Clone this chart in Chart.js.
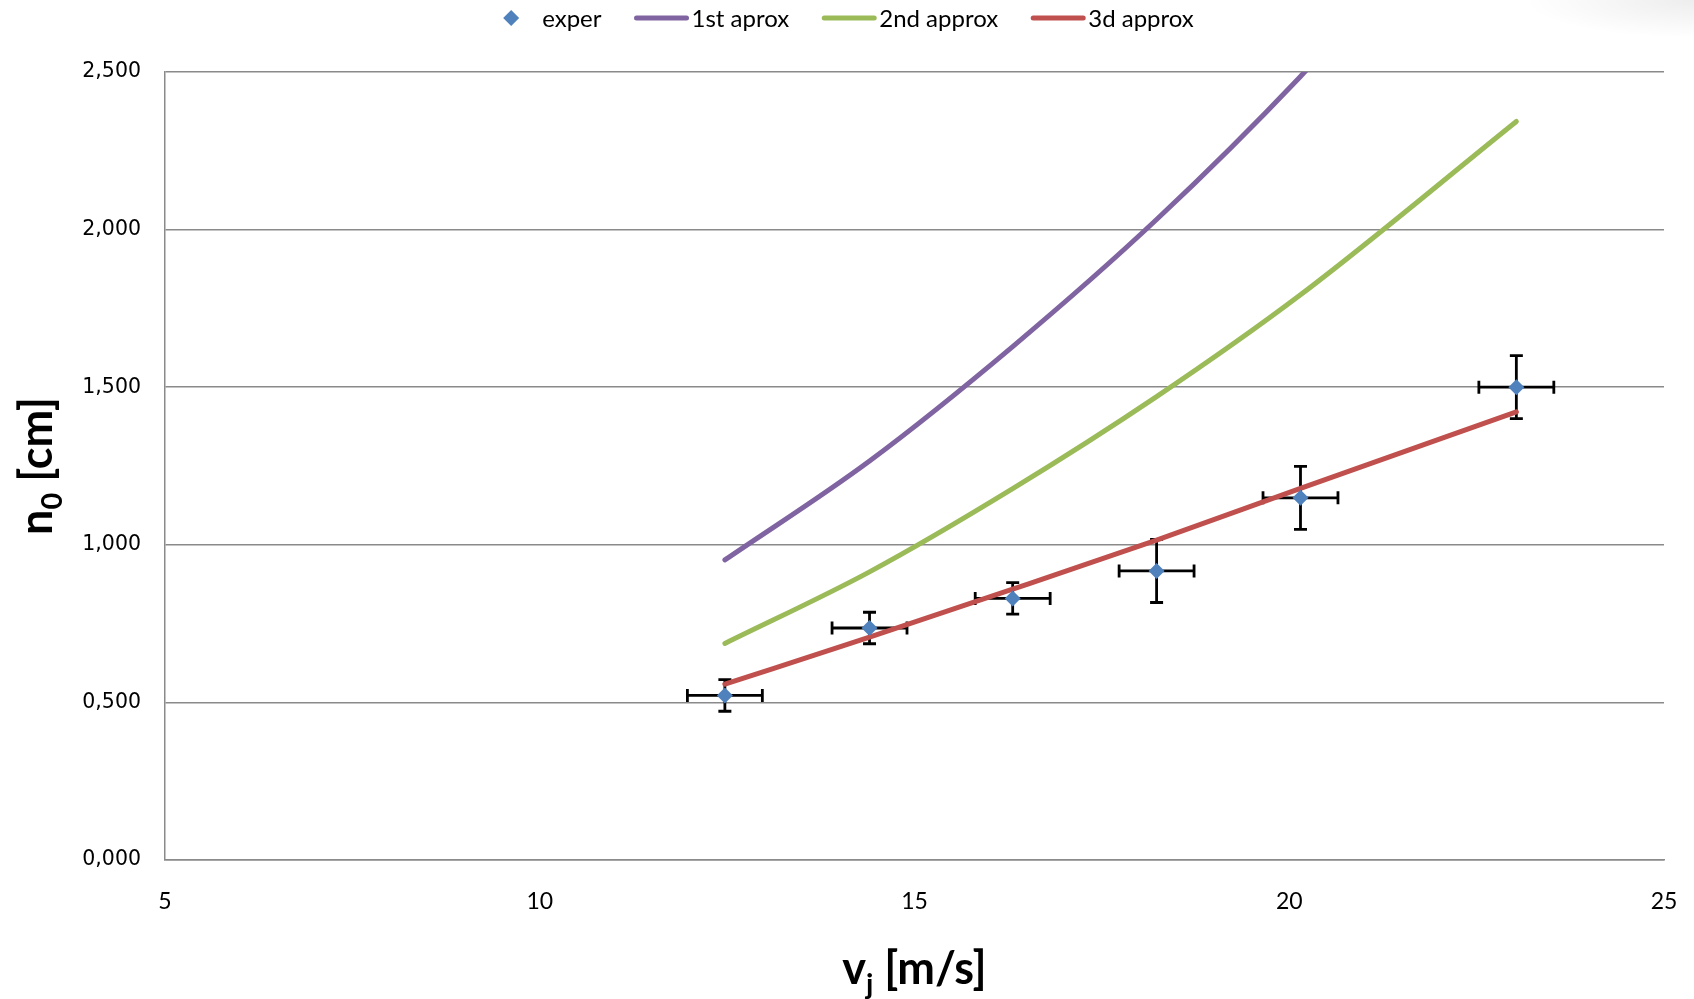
<!DOCTYPE html>
<html lang="en">
<head>
<meta charset="UTF-8">
<title>n0 vs vj</title>
<script src="https://cdn.jsdelivr.net/npm/chart.js"></script>
<style>
  body { margin: 0; background: #fff; }
  #wrap {
    width: 1694px;
    height: 999px;
    /* soft shade in the top right corner */
    background: radial-gradient(ellipse 170px 38px at 100% 0, rgba(0, 0, 0, 0.07), rgba(0, 0, 0, 0));
  }
</style>
</head>
<body>
<div id="wrap"><canvas id="chart" width="1694" height="999"></canvas></div>
<script>
// jet velocity vj [m/s]
const vj = [12.47, 14.40, 16.31, 18.23, 20.15, 23.03];
// measured n0 [cm] and its uncertainties
const exper = [0.522, 0.736, 0.830, 0.917, 1.149, 1.500];
const errV = [0.5, 0.5, 0.5, 0.5, 0.5, 0.5];
const errN = [0.05, 0.05, 0.05, 0.10, 0.10, 0.10];
// model curves
const approx1 = [0.952, 1.266, 1.629, 2.032, 2.486, 3.250];
const approx2 = [0.687, 0.914, 1.178, 1.470, 1.793, 2.343];
const approx3 = [0.558, 0.707, 0.859, 1.015, 1.179, 1.422];
// axis tick labels
const xTicks = ['5', '10', '15', '20', '25'];
const yTicks = ['0,000', '0,500', '1,000', '1,500', '2,000', '2,500'];

const BLUE = '#4F81BD', PURPLE = '#8064A2', GREEN = '#9BBB59', RED = '#C0504D';
const GRID = '#8a8a8a';

function pts(ys) {
  return vj.map((v, i) => ({ x: v, y: ys[i] }));
}

function curve(label, ys, color) {
  return {
    label: label,
    data: pts(ys),
    borderColor: color,
    backgroundColor: color,
    borderWidth: 5,
    borderCapStyle: 'round',
    pointRadius: 0,
    cubicInterpolationMode: 'monotone',
    showLine: true
  };
}

// horizontal and vertical error bars under the markers
const errorBars = {
  id: 'errorBars',
  beforeDatasetsDraw(chart) {
    const { ctx, scales: { x, y } } = chart;
    const cap = 6.5;
    ctx.save();
    ctx.strokeStyle = '#000';
    ctx.lineWidth = 2.8;
    vj.forEach((v, i) => {
      const px = x.getPixelForValue(v);
      const py = y.getPixelForValue(exper[i]);
      const x0 = x.getPixelForValue(v - errV[i]);
      const x1 = x.getPixelForValue(v + errV[i]);
      const y0 = y.getPixelForValue(exper[i] - errN[i]);
      const y1 = y.getPixelForValue(exper[i] + errN[i]);
      ctx.beginPath();
      ctx.moveTo(x0, py); ctx.lineTo(x1, py);
      ctx.moveTo(x0, py - cap); ctx.lineTo(x0, py + cap);
      ctx.moveTo(x1, py - cap); ctx.lineTo(x1, py + cap);
      ctx.moveTo(px, y0); ctx.lineTo(px, y1);
      ctx.moveTo(px - cap, y0); ctx.lineTo(px + cap, y0);
      ctx.moveTo(px - cap, y1); ctx.lineTo(px + cap, y1);
      ctx.stroke();
    });
    ctx.restore();
  }
};

// legend row at the top
const legendRow = {
  id: 'legendRow',
  afterDraw(chart) {
    const ctx = chart.ctx;
    const items = [
      { text: 'exper', color: BLUE, point: true },
      { text: '1st aprox', color: PURPLE },
      { text: '2nd approx', color: GREEN },
      { text: '3d approx', color: RED }
    ];
    const lineLen = 54, itemGap = 33, y = 18;
    ctx.save();
    ctx.font = '24px Lato';
    ctx.textBaseline = 'middle';
    ctx.fillStyle = '#000';
    let total = 0;
    items.forEach(it => {
      it.mark = it.point ? 14 : lineLen;
      it.gap = it.point ? 24 : 3;
      it.w = ctx.measureText(it.text).width;
      total += it.mark + it.gap + it.w;
    });
    total += itemGap * (items.length - 1);
    let cx = chart.width / 2 - total / 2 + 2;
    items.forEach(it => {
      if (it.point) {
        const r = 8, mx = cx + it.mark / 2;
        ctx.fillStyle = it.color;
        ctx.beginPath();
        ctx.moveTo(mx - r, y); ctx.lineTo(mx, y - r);
        ctx.lineTo(mx + r, y); ctx.lineTo(mx, y + r);
        ctx.closePath();
        ctx.fill();
      } else {
        ctx.strokeStyle = it.color;
        ctx.lineWidth = 5;
        ctx.lineCap = 'round';
        ctx.beginPath();
        ctx.moveTo(cx + 2, y); ctx.lineTo(cx + it.mark - 2, y);
        ctx.stroke();
      }
      ctx.fillStyle = '#000';
      ctx.fillText(it.text, cx + it.mark + it.gap, y + 1);
      cx += it.mark + it.gap + it.w + itemGap;
    });
    ctx.restore();
  }
};

// axis titles with subscripts
function drawSubTitle(ctx, main, sub, rest, cx, cy, angle) {
  const big = 'bold 45px Lato', small = 'bold 29px Lato';
  ctx.save();
  ctx.translate(cx, cy);
  ctx.rotate(angle);
  ctx.font = big;
  const w1 = ctx.measureText(main).width;
  const w3 = ctx.measureText(rest).width;
  ctx.font = small;
  const w2 = ctx.measureText(sub).width;
  let x = -(w1 + w2 + w3) / 2;
  ctx.fillStyle = '#000';
  ctx.textBaseline = 'alphabetic';
  ctx.font = big;
  ctx.fillText(main, x, 14);
  x += w1;
  ctx.font = small;
  ctx.fillText(sub, x, 24);
  x += w2;
  ctx.font = big;
  ctx.fillText(rest, x, 14);
  ctx.restore();
}

const axisTitles = {
  id: 'axisTitles',
  afterDraw(chart) {
    const a = chart.chartArea;
    drawSubTitle(chart.ctx, 'v', 'j', ' [m/s]', (a.left + a.right) / 2, 970, 0);
    drawSubTitle(chart.ctx, 'n', '0', ' [cm]', 38, (a.top + a.bottom) / 2, -Math.PI / 2);
  }
};

new Chart(document.getElementById('chart'), {
  type: 'scatter',
  data: {
    datasets: [
      {
        label: 'exper',
        data: pts(exper),
        pointStyle: 'rectRot',
        pointRadius: 8,
        pointBorderWidth: 0,
        backgroundColor: BLUE,
        borderColor: BLUE,
        showLine: false
      },
      curve('1st aprox', approx1, PURPLE),
      curve('2nd approx', approx2, GREEN),
      curve('3d approx', approx3, RED)
    ]
  },
  options: {
    responsive: false,
    animation: false,
    layout: { padding: { top: 72, right: 30, left: 0, bottom: 0 } },
    plugins: {
      legend: { display: false },
      tooltip: { enabled: false }
    },
    scales: {
      x: {
        type: 'linear',
        min: 5,
        max: 25,
        afterFit: s => { s.height = 139; },
        // invisible tick marks push the labels down without widening the side padding
        grid: {
          display: true,
          color: 'rgba(0,0,0,0)',
          drawTicks: true,
          tickLength: 25,
          tickColor: 'rgba(0,0,0,0)'
        },
        border: { display: true, color: GRID, width: 1.5 },
        ticks: {
          stepSize: 5,
          padding: 3,
          color: '#000',
          font: { family: 'Lato', size: 23 },
          callback: v => xTicks[Math.round((v - 5) / 5)]
        }
      },
      y: {
        min: 0,
        max: 2.5,
        afterFit: s => { s.width = 165; },
        grid: { color: GRID, lineWidth: 1.5, drawTicks: false },
        border: { display: true, color: GRID, width: 1.5 },
        ticks: {
          stepSize: 0.5,
          padding: 24,
          color: '#000',
          font: { family: 'DejaVu Sans', size: 20.5 },
          callback: v => yTicks[Math.round(v / 0.5)]
        }
      }
    }
  },
  plugins: [errorBars, legendRow, axisTitles]
});
</script>
</body>
</html>
